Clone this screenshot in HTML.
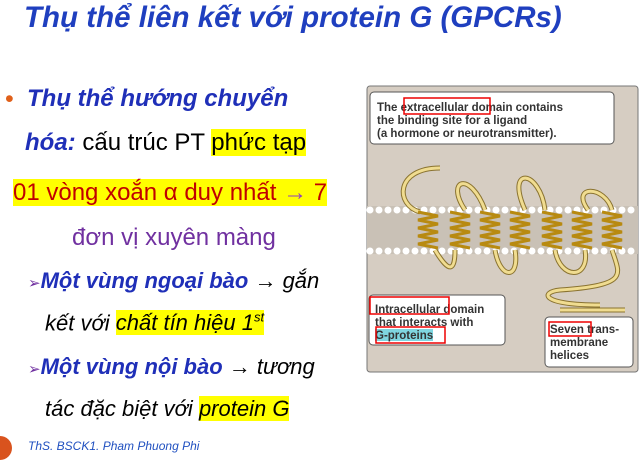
<!DOCTYPE html>
<html><head><meta charset="utf-8"><style>
body{margin:0;width:642px;height:451px;background:#fff;overflow:hidden;position:relative;font-family:"Liberation Sans","DejaVu Sans",sans-serif}
.t{position:absolute;white-space:nowrap}
.b{color:#1f2fb8;font-weight:bold;font-style:italic}
.hl{background:#ffff00}
</style></head><body>
<div class="t b" style="left:24px;top:1px;font-size:29.5px;color:#1f3fbf">Thụ thể liên kết với protein G (GPCRs)</div>
<div class="t" style="left:5px;top:85px;font-size:25px;color:#e0601a">•</div>
<div class="t b" style="left:27px;top:85px;font-size:24px">Thụ thể hướng chuyển</div>
<div class="t" style="left:25px;top:129px;font-size:24px"><span class="b">hóa:</span> cấu trúc PT <span class="hl">phức tạp</span></div>
<div class="t" style="left:13px;top:179px;font-size:24px;color:#c00000"><span class="hl">01 vòng xoắn α duy nhất <span style="color:#9040c0">→</span> 7</span></div>
<div class="t" style="left:72px;top:224px;font-size:24px;color:#7030a0">đơn vị xuyên màng</div>
<div class="t" style="left:28px;top:268px;font-size:22px;font-style:italic"><span style="color:#7030a0;font-size:15px">➢</span><span class="b">Một vùng ngoại bào</span> → gắn</div>
<div class="t" style="left:45px;top:310px;font-size:22px;font-style:italic">kết với <span class="hl">chất tín hiệu 1<sup style="font-size:13px">st</sup></span></div>
<div class="t" style="left:28px;top:354px;font-size:22px;font-style:italic"><span style="color:#7030a0;font-size:15px">➢</span><span class="b">Một vùng nội bào</span> → tương</div>
<div class="t" style="left:45px;top:396px;font-size:22px;font-style:italic">tác đặc biệt với <span class="hl">protein G</span></div>
<div style="position:absolute;left:-12px;top:436px;width:24px;height:24px;border-radius:50%;background:#d9531e"></div>
<div class="t" style="left:28px;top:439px;font-size:12px;font-style:italic;color:#2050c0">ThS. BSCK1. Pham Phuong Phi</div>
<svg style="position:absolute;left:0;top:0" width="642" height="451">
<rect x="367" y="86" width="271" height="286" rx="3" fill="#d6cdc2" stroke="#777" stroke-width="1"/>
<rect x="367" y="206" width="271" height="48" fill="#c9c1b6"/>
<g id="dots"></g>
<path d="M440,168 C395,168 395,205 420,212" fill="none" stroke="#8a7330" stroke-width="5"/>
<path d="M440,168 C395,168 395,205 420,212" fill="none" stroke="#f0dc90" stroke-width="3"/>
<path d="M435,250 C450,275 455,270 455,250 M465,210 C445,180 470,170 485,210 M495,250 C500,280 520,280 515,250 M525,210 C505,165 540,170 545,210 M555,250 C560,280 590,280 585,250 M588,210 C570,185 605,185 612,210 M612,250 C620,275 630,285 560,290 C540,292 540,305 600,305 M560,310 L625,310" fill="none" stroke="#8a7330" stroke-width="5"/>
<path d="M435,250 C450,275 455,270 455,250 M465,210 C445,180 470,170 485,210 M495,250 C500,280 520,280 515,250 M525,210 C505,165 540,170 545,210 M555,250 C560,280 590,280 585,250 M588,210 C570,185 605,185 612,210 M612,250 C620,275 630,285 560,290 C540,292 540,305 600,305 M560,310 L625,310" fill="none" stroke="#f0dc90" stroke-width="3"/>
<g id="helices" fill="none" stroke="#b88a10" stroke-width="3"></g>
<rect x="370" y="92" width="244" height="52" rx="4" fill="#fff" stroke="#555"/>
<text x="377" y="111" font-size="11.5" font-weight="bold" fill="#333">The extracellular domain contains</text>
<text x="377" y="124" font-size="11.5" font-weight="bold" fill="#333">the binding site for a ligand</text>
<text x="377" y="137" font-size="11.5" font-weight="bold" fill="#333">(a hormone or neurotransmitter).</text>
<rect x="404" y="98" width="86" height="16" fill="none" stroke="#e00" stroke-width="1.5"/>
<rect x="369" y="295" width="136" height="50" rx="4" fill="#fff" stroke="#555"/>
<text x="375" y="313" font-size="11.5" font-weight="bold" fill="#333">Intracellular domain</text>
<text x="375" y="326" font-size="11.5" font-weight="bold" fill="#333">that interacts with</text>
<rect x="375" y="329" width="58" height="12" fill="#7fd6e0"/>
<text x="375" y="339" font-size="11.5" font-weight="bold" fill="#333">G-proteins</text>
<rect x="370" y="297" width="79" height="17" fill="none" stroke="#e00" stroke-width="1.5"/>
<rect x="376" y="327" width="69" height="16" fill="none" stroke="#e00" stroke-width="1.5"/>
<rect x="545" y="317" width="88" height="50" rx="4" fill="#fff" stroke="#555"/>
<text x="550" y="333" font-size="11.5" font-weight="bold" fill="#333">Seven trans-</text>
<text x="550" y="346" font-size="11.5" font-weight="bold" fill="#333">membrane</text>
<text x="550" y="359" font-size="11.5" font-weight="bold" fill="#333">helices</text>
<rect x="549" y="322" width="42" height="14" fill="none" stroke="#e00" stroke-width="1.5"/>
</svg>
<script>
var ns='http://www.w3.org/2000/svg';
var d=document.getElementById('dots');
for(var x=370;x<638;x+=9){[210,251].forEach(function(y){var c=document.createElementNS(ns,'circle');c.setAttribute('cx',x);c.setAttribute('cy',y);c.setAttribute('r',3.5);c.setAttribute('fill','#fff');


d.appendChild(c);});}
var h=document.getElementById('helices');
[428,460,490,520,552,582,612].forEach(function(cx){var p='M'+(cx-10)+',212';for(var i=1;i<=9;i++){p+=' L'+(cx+(i%2?10:-10))+','+(212+i*4);}var e=document.createElementNS(ns,'path');e.setAttribute('d',p);


h.appendChild(e);});
</script>
</body></html>
